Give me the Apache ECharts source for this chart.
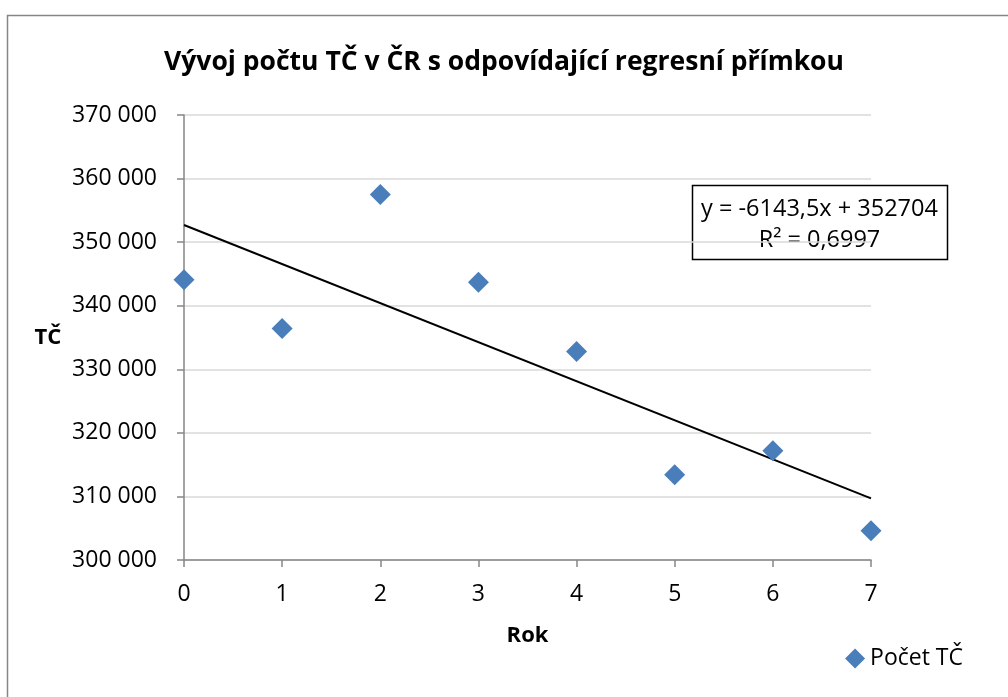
<!DOCTYPE html>
<html>
<head>
<meta charset="utf-8">
<script src="https://cdn.jsdelivr.net/npm/echarts@6/dist/echarts.min.js"></script>
<style>
  html, body { margin: 0; padding: 0; background: #fff; }
  #chart { width: 1008px; height: 697px; }
</style>
</head>
<body>
<div id="chart"></div>
<script>
// data
const years = [0, 1, 2, 3, 4, 5, 6, 7];
const counts = [344100, 336400, 357500, 343700, 332800, 313400, 317200, 304600];
// regression line endpoints (y = -6143,5x + 352704)
const trendX = [0, 7];
const trendY = [352704, 309699.5];
const yTicks = [300000, 370000, 10000];

const font = "Open Sans";
const chart = echarts.init(document.getElementById("chart"));

chart.setOption({
  animation: false,
  title: {
    text: "Vývoj počtu TČ v ČR s odpovídající regresní přímkou",
    left: "center",
    top: 44,
    textStyle: { fontFamily: font, fontSize: 26.5, fontWeight: "bold", color: "#000" }
  },
  grid: { left: 184, right: 137, top: 115, bottom: 137 },
  legend: {
    right: 40,
    bottom: 22,
    icon: "diamond",
    itemWidth: 20,
    itemHeight: 20,
    textStyle: { fontFamily: font, fontSize: 23, color: "#000" },
    data: ["Počet TČ"]
  },
  xAxis: {
    type: "value",
    min: 0,
    max: 7,
    interval: 1,
    name: "Rok",
    nameLocation: "middle",
    nameGap: 65,
    nameTextStyle: { fontFamily: font, fontSize: 22, fontWeight: "bold", color: "#000" },
    axisLine: { show: true, onZero: false, lineStyle: { color: "#868686", width: 1.5 } },
    axisTick: { show: true, length: 7, lineStyle: { color: "#868686", width: 1.5 } },
    axisLabel: { fontFamily: font, fontSize: 23, color: "#000", margin: 23 },
    splitLine: { show: false }
  },
  yAxis: {
    type: "value",
    min: yTicks[0],
    max: yTicks[1],
    interval: yTicks[2],
    name: "TČ",
    nameLocation: "middle",
    nameRotate: 0,
    nameGap: 136,
    nameTextStyle: { fontFamily: font, fontSize: 22, fontWeight: "bold", color: "#000", align: "center" },
    axisLine: { show: true, lineStyle: { color: "#868686", width: 1.5 } },
    axisTick: { show: true, length: 7, lineStyle: { color: "#868686", width: 1.5 } },
    axisLabel: {
      fontFamily: font, fontSize: 23, color: "#000", margin: 27,
      formatter: v => String(v).replace(/\B(?=(\d{3})+(?!\d))/g, " ")
    },
    splitLine: { lineStyle: { color: "#d9d9d9", width: 1.5 } }
  },
  graphic: [
    {
      type: "rect",
      left: 5, top: 13,
      shape: { width: 1010, height: 700 },
      style: { fill: "none", stroke: "#868686", lineWidth: 1.5 },
      silent: true
    },
    {
      type: "group",
      left: 690, top: 183,
      z: 10,
      children: [
        { type: "rect", shape: { x: 0, y: 0, width: 255, height: 74 },
          style: { fill: "none", stroke: "#000", lineWidth: 1.5 } },
        { type: "text", x: 127, y: 24,
          style: { text: "y = -6143,5x + 352704", fontFamily: font, fontSize: 23.5,
                   fill: "#000", align: "center", verticalAlign: "middle" } },
        { type: "text", x: 127, y: 55,
          style: { text: "R² = 0,6997", fontFamily: font, fontSize: 23.5,
                   fill: "#000", align: "center", verticalAlign: "middle" } }
      ]
    }
  ],
  series: [
    {
      name: "Trend",
      type: "line",
      data: trendX.map((x, i) => [x, trendY[i]]),
      showSymbol: false,
      lineStyle: { color: "#000", width: 2 },
      z: 2
    },
    {
      name: "Počet TČ",
      type: "scatter",
      symbol: "diamond",
      symbolSize: 21,
      itemStyle: { color: "#4A7EBB", opacity: 1 },
      data: years.map((x, i) => [x, counts[i]]),
      z: 3
    }
  ]
});
</script>
</body>
</html>
